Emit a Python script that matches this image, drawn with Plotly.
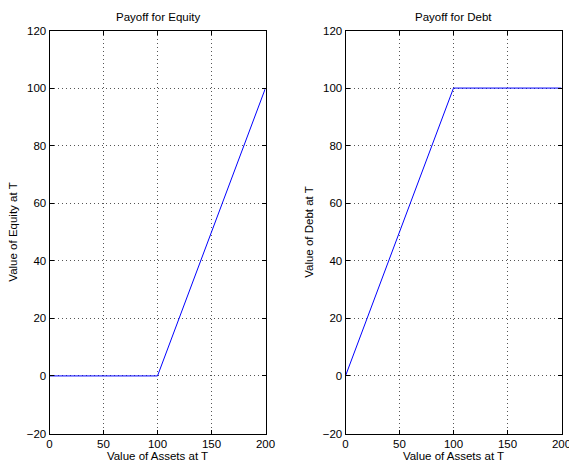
import plotly.graph_objects as go

# Asset value at maturity and the corresponding claim payoffs (face value of debt = 100)
assets = [0, 100, 200]
equity_payoff = [0, 0, 100]
debt_payoff = [0, 100, 100]

x_ticks = [0, 50, 100, 150, 200]
y_ticks = [-20, 0, 20, 40, 60, 80, 100, 120]

W, H = 569, 464
font = dict(family="Liberation Sans, Arial, sans-serif", size=11.5, color="black")

fig = go.Figure()
fig.add_trace(go.Scatter(x=assets, y=equity_payoff, mode="lines",
                         line=dict(color="#0000ff", width=1), xaxis="x", yaxis="y", showlegend=False))
fig.add_trace(go.Scatter(x=assets, y=debt_payoff, mode="lines",
                         line=dict(color="#0000ff", width=1), xaxis="x2", yaxis="y2", showlegend=False))

ydom = [1 - 433.5 / H, 1 - 30.5 / H]
xdom1 = [49.5 / W, 265.5 / W]
xdom2 = [345.5 / W, 561.5 / W]

grid = dict(showgrid=True, gridcolor="#555", griddash="1px,3px", gridwidth=1)
common_x = dict(range=[0, 200], tickvals=x_ticks, ticks="inside", ticklen=4, tickcolor="black",
                showline=True, linecolor="black", linewidth=1, mirror="ticks",
                zeroline=False, tickfont=font, title_font=font, title_standoff=0,
                automargin=False, ticklabeloverflow="allow", **grid)
common_y = dict(range=[-20, 120], tickvals=y_ticks, ticks="inside", ticklen=4, tickcolor="black",
                showline=True, linecolor="black", linewidth=1, mirror="ticks",
                zeroline=False, tickfont=font, title_font=font, title_standoff=6,
                tickformat="d", automargin=False, ticklabeloverflow="allow", **grid)

fig.update_layout(
    width=W, height=H, margin=dict(l=0, r=0, t=0, b=0, autoexpand=False),
    paper_bgcolor="white", plot_bgcolor="white", font=font,
    xaxis=dict(domain=xdom1, anchor="y", title_text="Value of Assets at T", **common_x),
    yaxis=dict(domain=ydom, anchor="x", title_text="Value of Equity at T", **common_y),
    xaxis2=dict(domain=xdom2, anchor="y2", title_text="Value of Assets at T", **common_x),
    yaxis2=dict(domain=ydom, anchor="x2", title_text="Value of Debt at T", **common_y),
    annotations=[
        dict(text="Payoff for Equity", x=(xdom1[0] + xdom1[1]) / 2, y=1 - 17 / H,
             xref="paper", yref="paper", showarrow=False, font=font,
             xanchor="center", yanchor="middle"),
        dict(text="Payoff for Debt", x=(xdom2[0] + xdom2[1]) / 2, y=1 - 17 / H,
             xref="paper", yref="paper", showarrow=False, font=font,
             xanchor="center", yanchor="middle"),
    ],
)

fig.write_html("out.html")
